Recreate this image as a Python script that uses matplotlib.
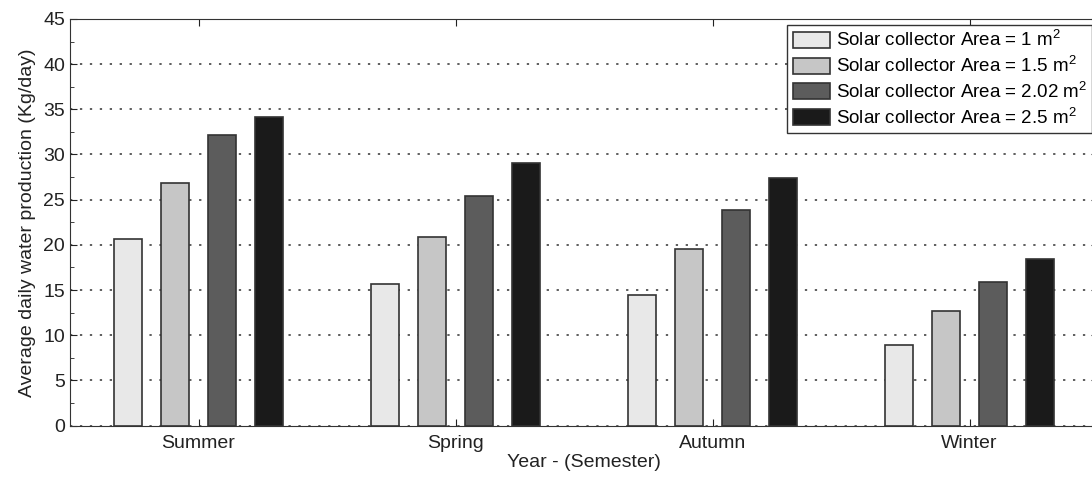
import matplotlib
matplotlib.use("Agg")
import matplotlib.pyplot as plt
import numpy as np
from matplotlib.ticker import MultipleLocator

plt.rcParams['font.family'] = ['Liberation Sans', 'DejaVu Sans']
plt.rcParams['mathtext.fontset'] = 'custom'
plt.rcParams['mathtext.rm'] = 'Liberation Sans'
plt.rcParams['mathtext.it'] = 'Liberation Sans'
plt.rcParams['mathtext.bf'] = 'Liberation Sans'

seasons = ['Summer', 'Spring', 'Autumn', 'Winter']
area_1 = [20.6, 15.65, 14.5, 8.9]
area_15 = [26.8, 20.85, 19.5, 12.65]
area_202 = [32.2, 25.45, 23.85, 15.9]
area_25 = [34.2, 29.05, 27.35, 18.45]
labels = ['Solar collector Area = 1 m$^2$',
          'Solar collector Area = 1.5 m$^2$',
          'Solar collector Area = 2.02 m$^2$',
          'Solar collector Area = 2.5 m$^2$']
colors = ['#e8e8e8', '#c6c6c6', '#5c5c5c', '#1a1a1a']

fig = plt.figure(figsize=(10.92, 4.82), dpi=100)
ax = fig.add_axes([0.0641, 0.1172, 0.9415, 0.8434])

x = np.arange(1, 5)
width = 0.109
offsets = [-0.273, -0.091, 0.091, 0.273]
for vals, off, c, lab in zip([area_1, area_15, area_202, area_25], offsets, colors, labels):
    ax.bar(x + off, vals, width, color=c, edgecolor='#333333', linewidth=1.2,
           label=lab, zorder=3)

ax.set_xlim(0.5, 4.5)
ax.set_ylim(0, 45)
ax.set_xticks(x)
ax.set_xticklabels(seasons)
ax.yaxis.set_major_locator(MultipleLocator(5))
ax.yaxis.set_minor_locator(MultipleLocator(2.5))
ax.tick_params(axis='both', which='both', direction='in', top=True, right=True,
               labelsize=14, colors='#222222')
ax.tick_params(which='major', length=5)
ax.tick_params(which='minor', length=3)
ax.tick_params(axis='x', pad=7)
ax.yaxis.grid(True, linestyle=(0, (1.5, 5)), color='#333333', linewidth=1.1, zorder=0)
for s in ax.spines.values():
    s.set_color('#333333')

ax.set_ylabel('Average daily water production (Kg/day)', fontsize=14, color='#222222', labelpad=5)
ax.set_xlabel('Year - (Semester)', fontsize=14, color='#222222', labelpad=1)

ax.legend(loc='upper right', fontsize=13.5, frameon=True, fancybox=False,
          edgecolor='#333333', framealpha=1, handlelength=2.0, handleheight=0.95,
          labelspacing=0.3, borderaxespad=0.3, borderpad=0.3, handletextpad=0.3)

fig.savefig('out.png', dpi=100)
